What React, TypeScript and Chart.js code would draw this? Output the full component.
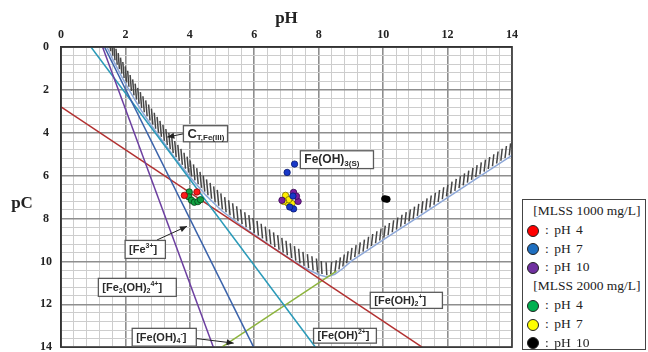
import React, { useEffect, useRef } from 'react';
import { Chart, registerables } from 'chart.js';

Chart.register(...registerables);

// ---- axes ----
const PH_MIN = 0;
const PH_MAX = 14;
const PC_MIN = 0;
const PC_MAX = 14;
const GRID_STEP = 0.4;
const LABEL_STEP = 2;

// ---- species lines (pH, pC) ----
const fe3PH = [1.35, 5.98];
const fe3PC = [0, 14];
const fe2oh2PH = [1.29, 4.73];
const fe2oh2PC = [0, 14];
const feohPH = [0.93, 7.9];
const feohPC = [0, 14];
const feoh2PH = [0, 11.21];
const feoh2PC = [2.79, 14];
const feoh4PH = [4.99, 8.55];
const feoh4PC = [14, 10.45];

// ---- total soluble Fe(III) curve ----
const ctPH = [1.43, 1.6, 1.75, 1.9, 2.08, 2.3, 2.5, 3.0, 3.5, 4.0, 4.5, 5.0, 5.5, 6.0, 6.5, 7.0, 7.5, 8.0, 8.25, 8.5, 8.75, 9.0, 10, 11, 12, 13, 14];
const ctPC = [0.02, 0.55, 1.0, 1.43, 1.92, 2.48, 2.98, 4.07, 5.1, 6.05, 6.92, 7.65, 8.22, 8.75, 9.27, 9.77, 10.25, 10.62, 10.72, 10.6, 10.33, 10.0, 9.0, 8.02, 7.02, 6.03, 5.05];

// ---- measurements ----
const m1000pH4X = [3.83, 4.22];
const m1000pH4Y = [6.92, 6.76];
const m1000pH7X = [7.25, 7.02, 7.22, 7.1, 7.2];
const m1000pH7Y = [5.46, 5.85, 7.55, 7.46, 6.95];
const m1000pH10X = [7.22, 7.36, 6.86, 7.31];
const m1000pH10Y = [6.78, 7.2, 7.15, 6.96];
const m2000pH4X = [3.98, 3.97, 4.05, 4.14, 4.25, 4.33];
const m2000pH4Y = [6.76, 6.99, 7.15, 7.24, 7.21, 7.12];
const m2000pH7X = [6.97, 7.04, 7.17, 7.07, 6.91];
const m2000pH7Y = [6.92, 7.27, 7.3, 7.12, 7.2];
const m2000pH10X = [10.05, 10.12];
const m2000pH10Y = [7.08, 7.1];

const legendTitles = ['[MLSS 1000 mg/L]', '[MLSS 2000 mg/L]'];
const legendItems = [': pH 4', ': pH 7', ': pH 10'];
const legendColors1000 = ['#ff0000', '#1f6fc0', '#7030a0'];
const legendColors2000 = ['#00b050', '#ffff00', '#000000'];

type Part = [string, 'n' | 'sup' | 'sub'];
interface Lbl {
  parts: Part[];
  box: [number, number, number, number]; // pH left, pC top, pH right, pC bottom
  size: number;
  from?: [number, number];
  to?: [number, number];
}

const annotations: Lbl[] = [
  { parts: [['C', 'n'], ['T,Fe(III)', 'sub']], box: [3.8, 3.67, 5.17, 4.42], size: 13, from: [3.8, 4.05], to: [3.3, 4.2] },
  { parts: [['Fe(OH)', 'n'], ['3(S)', 'sub']], box: [7.43, 4.84, 9.7, 5.67], size: 12 },
  { parts: [['[Fe', 'n'], ['3+', 'sup'], [']', 'n']], box: [1.99, 9.02, 3.24, 9.86], size: 11, from: [2.98, 9.0], to: [3.91, 8.36] },
  { parts: [['[Fe', 'n'], ['2', 'sub'], ['(OH)', 'n'], ['2', 'sub'], ['4+', 'sup'], [']', 'n']], box: [1.16, 10.79, 3.58, 11.63], size: 11 },
  { parts: [['[Fe(OH)', 'n'], ['4', 'sub'], ['-', 'sup'], [']', 'n']], box: [2.21, 13.12, 4.2, 13.95], size: 11, from: [4.22, 13.6], to: [5.36, 13.81] },
  { parts: [['[Fe(OH)', 'n'], ['2', 'sub'], ['+', 'sup'], [']', 'n']], box: [9.6, 11.44, 11.84, 12.19], size: 11 },
  { parts: [['[Fe(OH)', 'n'], ['2+', 'sup'], [']', 'n']], box: [7.84, 13.12, 9.79, 13.81], size: 11 },
];

const toXY = (xs: number[], ys: number[]) => xs.map((x, i) => ({ x, y: ys[i] }));
const isMajor = (v: number) => Math.abs(v / LABEL_STEP - Math.round(v / LABEL_STEP)) < 1e-6;

const SERIF = '"Liberation Serif", "Times New Roman", serif';
const SANS = '"Liberation Sans", Arial, sans-serif';

function drawRich(ctx: CanvasRenderingContext2D, parts: Part[], x: number, y: number, base: number) {
  let cx = x;
  ctx.textBaseline = 'middle';
  ctx.textAlign = 'left';
  for (const [t, k] of parts) {
    const sz = k === 'n' ? base : Math.round(base * 0.64);
    ctx.font = `bold ${sz}px ${SANS}`;
    const dy = k === 'sup' ? -base * 0.36 : k === 'sub' ? base * 0.3 : 0;
    ctx.fillText(t, cx, y + dy);
    cx += ctx.measureText(t).width;
  }
}

function arrow(ctx: CanvasRenderingContext2D, x1: number, y1: number, x2: number, y2: number) {
  ctx.beginPath();
  ctx.moveTo(x1, y1);
  ctx.lineTo(x2, y2);
  ctx.strokeStyle = '#222';
  ctx.lineWidth = 1;
  ctx.stroke();
  const a = Math.atan2(y2 - y1, x2 - x1);
  const L = 7, W = 3;
  ctx.beginPath();
  ctx.moveTo(x2, y2);
  ctx.lineTo(x2 - L * Math.cos(a) + W * Math.sin(a), y2 - L * Math.sin(a) - W * Math.cos(a));
  ctx.lineTo(x2 - L * Math.cos(a) - W * Math.sin(a), y2 - L * Math.sin(a) + W * Math.cos(a));
  ctx.closePath();
  ctx.fillStyle = '#222';
  ctx.fill();
}

const CT_LABEL = 'ct';

const hatchPlugin = {
  id: 'hatch',
  beforeDatasetsDraw(chart: any) {
    const idx = chart.data.datasets.findIndex((d: any) => d.label === CT_LABEL);
    if (idx < 0) return;
    const pts = chart.getDatasetMeta(idx).data.map((p: any) => ({ x: p.x, y: p.y }));
    const { ctx, chartArea } = chart;
    ctx.save();
    ctx.beginPath();
    ctx.rect(chartArea.left, chartArea.top, chartArea.right - chartArea.left, chartArea.bottom - chartArea.top);
    ctx.clip();
    ctx.strokeStyle = '#454545';
    ctx.lineWidth = 1.5;
    ctx.lineCap = 'butt';
    const spacing = 5;
    let carry = 0;
    for (let i = 0; i < pts.length - 1; i++) {
      const a = pts[i], b = pts[i + 1];
      const dx = b.x - a.x, dy = b.y - a.y;
      const len = Math.hypot(dx, dy);
      const ux = dx / len, uy = dy / len;
      const nx = uy, ny = -ux;
      const s = dy / dx;
      const lean = (-3 * s) / (1 + s * s);
      const H = 12 + Math.max(0, Math.min(1, s)) * 4;
      let d = carry;
      while (d < len) {
        const t = d / len;
        const x = a.x + dx * t + nx * 1.5;
        const y = a.y + dy * t + ny * 1.5;
        ctx.beginPath();
        ctx.moveTo(x, y);
        ctx.lineTo(x + lean, y - H);
        ctx.stroke();
        d += spacing;
      }
      carry = d - len;
    }
    ctx.restore();
  },
};

const overlayPlugin = {
  id: 'overlay',
  afterDatasetsDraw(chart: any) {
    const { ctx, chartArea, scales } = chart;
    const xs = scales.x, ys = scales.y;
    ctx.save();
    ctx.strokeStyle = '#333';
    ctx.lineWidth = 1.5;
    ctx.strokeRect(chartArea.left, chartArea.top, chartArea.right - chartArea.left, chartArea.bottom - chartArea.top);

    for (const l of annotations) {
      const x1 = xs.getPixelForValue(l.box[0]);
      const y1 = ys.getPixelForValue(l.box[1]);
      const x2 = xs.getPixelForValue(l.box[2]);
      const y2 = ys.getPixelForValue(l.box[3]);
      if (l.from && l.to) {
        arrow(ctx, xs.getPixelForValue(l.from[0]), ys.getPixelForValue(l.from[1]), xs.getPixelForValue(l.to[0]), ys.getPixelForValue(l.to[1]));
      }
      ctx.fillStyle = '#ffffff';
      ctx.fillRect(x1, y1, x2 - x1, y2 - y1);
      ctx.strokeStyle = '#5a5a5a';
      ctx.lineWidth = 1.3;
      ctx.strokeRect(x1, y1, x2 - x1, y2 - y1);
      ctx.fillStyle = '#2a2a2a';
      drawRich(ctx, l.parts, x1 + 4, (y1 + y2) / 2 + 0.5, l.size);
    }

    // y-axis title, horizontal
    ctx.font = `bold 17px ${SERIF}`;
    ctx.fillStyle = '#222';
    ctx.textAlign = 'center';
    ctx.textBaseline = 'middle';
    ctx.fillText('pC', chartArea.left - 39, (chartArea.top + chartArea.bottom) / 2 + 7);
    ctx.restore();
  },
};

function lineDs(label: string, xs: number[], ys: number[], color: string, order: number) {
  return {
    label,
    data: toXY(xs, ys),
    showLine: true,
    borderColor: color,
    backgroundColor: color,
    borderWidth: 1.5,
    pointRadius: 0,
    pointHoverRadius: 0,
    fill: false,
    order,
  };
}

function ptDs(label: string, xs: number[], ys: number[], color: string, border: string) {
  return {
    label,
    data: toXY(xs, ys),
    showLine: false,
    backgroundColor: color,
    borderColor: border,
    borderWidth: 0.8,
    pointRadius: 3.2,
    pointStyle: 'circle',
    order: 0,
  };
}

export default function App() {
  const ref = useRef<HTMLCanvasElement | null>(null);

  useEffect(() => {
    if (!ref.current) return;
    const chart = new Chart(ref.current, {
      type: 'scatter',
      data: {
        datasets: [
          ptDs('1000 pH4', m1000pH4X, m1000pH4Y, '#ff1a1a', '#8a0000'),
          ptDs('1000 pH7', m1000pH7X, m1000pH7Y, '#1838c8', '#0a1a70'),
          ptDs('1000 pH10', m1000pH10X, m1000pH10Y, '#7a1ea0', '#3a0a50'),
          ptDs('2000 pH4', m2000pH4X, m2000pH4Y, '#10a040', '#064018'),
          ptDs('2000 pH7', m2000pH7X, m2000pH7Y, '#ffee00', '#7a7000'),
          ptDs('2000 pH10', m2000pH10X, m2000pH10Y, '#000000', '#000000'),
          lineDs('Fe3+', fe3PH, fe3PC, '#3a62aa', 1),
          lineDs('Fe2(OH)2', fe2oh2PH, fe2oh2PC, '#6c3fa0', 1),
          lineDs('FeOH2+', feohPH, feohPC, '#2a9ab8', 1),
          lineDs('Fe(OH)2+', feoh2PH, feoh2PC, '#b23030', 1),
          lineDs('Fe(OH)4-', feoh4PH, feoh4PC, '#8db43e', 1),
          lineDs(CT_LABEL, ctPH, ctPC, '#8ea8d8', 2),
        ],
      },
      options: {
        responsive: false,
        animation: false,
        devicePixelRatio: 1,
        layout: { padding: { left: 0, top: 0, right: 136, bottom: 4 } },
        plugins: { legend: { display: false }, tooltip: { enabled: false } },
        scales: {
          x: {
            type: 'linear',
            position: 'top',
            min: PH_MIN,
            max: PH_MAX,
            afterFit: (s: any) => { s.height = 47; s.paddingLeft = 0; s.paddingRight = 0; },
            ticks: {
              stepSize: GRID_STEP,
              autoSkip: false,
              maxRotation: 0,
              padding: 5,
              color: '#222',
              font: { family: SERIF, size: 12, weight: 'bold' },
              callback: (v: any) => (isMajor(Number(v)) ? String(Math.round(Number(v))) : ''),
            },
            grid: {
              drawTicks: false,
              color: (c: any) => (isMajor(c.tick.value) ? '#8e8e8e' : '#cdcdcd'),
              lineWidth: (c: any) => (isMajor(c.tick.value) ? 1.6 : 1),
            },
            border: { display: true, color: '#333', width: 1.5 },
            title: {
              display: true,
              text: 'pH',
              color: '#222',
              font: { family: SERIF, size: 17, weight: 'bold' },
              padding: { top: 8, bottom: 0 },
            },
          },
          y: {
            type: 'linear',
            reverse: true,
            min: PC_MIN,
            max: PC_MAX,
            afterFit: (s: any) => { s.width = 61; s.paddingTop = 0; s.paddingBottom = 0; },
            ticks: {
              stepSize: GRID_STEP,
              autoSkip: false,
              crossAlign: 'center',
              padding: 9,
              color: '#222',
              font: { family: SERIF, size: 12, weight: 'bold' },
              callback: (v: any) => (isMajor(Number(v)) ? String(Math.round(Number(v))) : ''),
            },
            grid: {
              drawTicks: false,
              color: (c: any) => (isMajor(c.tick.value) ? '#8e8e8e' : '#cdcdcd'),
              lineWidth: (c: any) => (isMajor(c.tick.value) ? 1.6 : 1),
            },
            border: { display: true, color: '#333', width: 1.5 },
          },
        },
      } as any,
      plugins: [hatchPlugin, overlayPlugin],
    });
    return () => chart.destroy();
  }, []);

  const rowH = 18.8;
  const marker = (c: string) => (
    <span
      style={{
        position: 'absolute',
        left: 4,
        top: (rowH - 11) / 2,
        width: 10,
        height: 10,
        borderRadius: '50%',
        background: c,
        border: '1px solid #222',
      }}
    />
  );
  const itemRow = (c: string, t: string, k: string) => (
    <div key={k} style={{ position: 'relative', height: rowH, lineHeight: `${rowH}px` }}>
      {marker(c)}
      <span style={{ position: 'absolute', left: 22, wordSpacing: 2 }}>{t}</span>
    </div>
  );
  const titleRow = (t: string) => (
    <div style={{ height: rowH, lineHeight: `${rowH}px`, textAlign: 'center', paddingLeft: 6 }}>{t}</div>
  );

  return (
    <div style={{ position: 'fixed', left: 0, top: 0, width: 648, height: 352, background: '#fff', overflow: 'hidden' }}>
      <canvas ref={ref} width={648} height={352} style={{ position: 'absolute', left: 0, top: 0, width: 648, height: 352 }} />
      <div
        style={{
          position: 'absolute',
          left: 522,
          top: 199,
          width: 124,
          height: 151,
          boxSizing: 'border-box',
          border: '1.3px solid #444',
          background: '#fff',
          paddingTop: 2,
          fontFamily: SERIF,
          fontSize: 13.5,
          color: '#222',
        }}
      >
        {titleRow(legendTitles[0])}
        {legendItems.map((t, i) => itemRow(legendColors1000[i], t, 'a' + i))}
        {titleRow(legendTitles[1])}
        {legendItems.map((t, i) => itemRow(legendColors2000[i], t, 'b' + i))}
      </div>
    </div>
  );
}
